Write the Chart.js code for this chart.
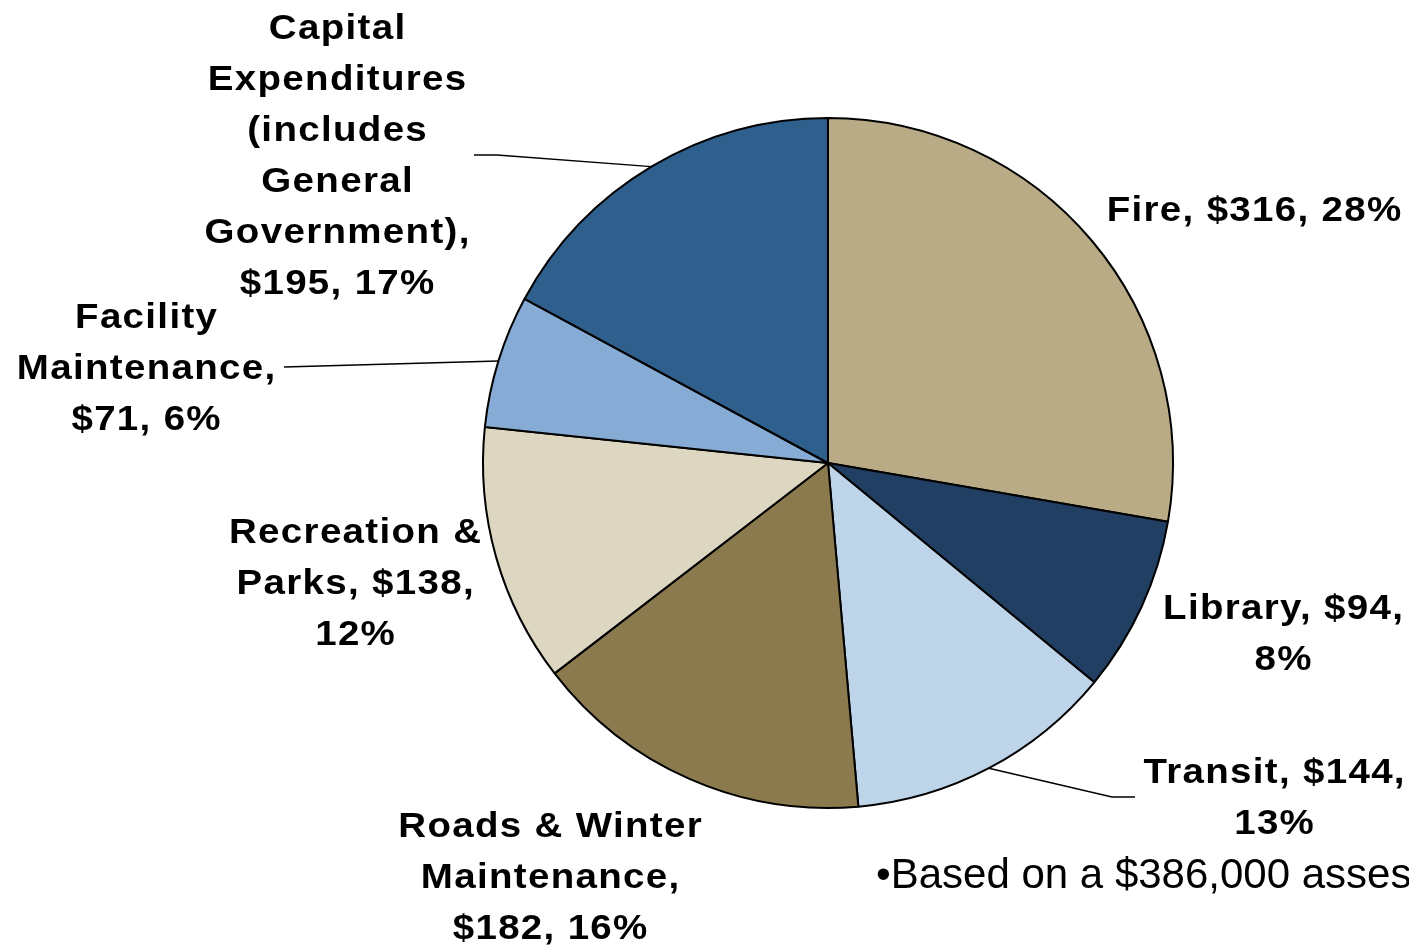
<!DOCTYPE html>
<html>
<head>
<meta charset="utf-8">
<script src="https://cdn.jsdelivr.net/npm/chart.js@4.4.1/dist/chart.umd.min.js"></script>
<style>
  html, body { margin: 0; padding: 0; background: #ffffff; overflow: hidden; }
  #wrap { position: relative; width: 1409px; height: 947px; }
</style>
</head>
<body>
<div id="wrap"><canvas id="c" width="1409" height="947"></canvas></div>
<script>
// ---- data ----
const categories = [
  "Fire",
  "Library",
  "Transit",
  "Roads & Winter Maintenance",
  "Recreation & Parks",
  "Facility Maintenance",
  "Capital Expenditures (includes General Government)"
];
const values = [316, 94, 144, 182, 138, 71, 195];
const colors = ["#B9AB85", "#213F62", "#BDD4E9", "#8B7A4E", "#DDD7C2", "#86ABD4", "#2F5F8D"];
// how many words go on each line of each data label
const lineWords = [[3], [2, 1], [2, 1], [3, 1, 2], [2, 2, 1], [1, 1, 2], [1, 1, 1, 1, 1, 2]];
const footnote = "\u2022Based on a $386,000 assessment";

// ---- label layout (centre x, first baseline y, optional leader elbow/end) ----
const labelLayout = [
  { x: 1254, y: 221 },
  { x: 1283, y: 619 },
  { x: 1274, y: 783, elbow: [1112, 797], end: [1135, 797] },
  { x: 550, y: 837 },
  { x: 355, y: 543 },
  { x: 146, y: 328, elbow: [284, 367], end: [284, 367] },
  { x: 337, y: 39, elbow: [497, 155], end: [474, 155] }
];
const LINE_H = 51;
const X_STRETCH = 1.1;
const SPACING = 1.2;

const total = values.reduce((a, b) => a + b, 0);

function labelLines(i) {
  const pct = Math.round(values[i] / total * 100);
  const words = (categories[i] + ", $" + values[i] + ", " + pct + "%").split(" ");
  const out = [];
  let k = 0;
  for (const n of lineWords[i]) {
    out.push(words.slice(k, k + n).join(" "));
    k += n;
  }
  return out;
}

const labelPlugin = {
  id: "outerLabels",
  afterDraw(chart) {
    const ctx = chart.ctx;
    const meta = chart.getDatasetMeta(0);
    ctx.save();
    // leader lines
    ctx.strokeStyle = "#000000";
    ctx.lineWidth = 1.5;
    meta.data.forEach((arc, i) => {
      const L = labelLayout[i];
      if (!L.elbow) return;
      const p = arc.getProps(["x", "y", "startAngle", "endAngle", "outerRadius"], true);
      const mid = (p.startAngle + p.endAngle) / 2;
      const ex = p.x + Math.cos(mid) * p.outerRadius;
      const ey = p.y + Math.sin(mid) * p.outerRadius;
      ctx.beginPath();
      ctx.moveTo(ex, ey);
      ctx.lineTo(L.elbow[0], L.elbow[1]);
      ctx.lineTo(L.end[0], L.end[1]);
      ctx.stroke();
    });
    // labels
    ctx.fillStyle = "#000000";
    ctx.font = "bold 35px 'Liberation Sans', Arial, sans-serif";
    ctx.textAlign = "center";
    ctx.textBaseline = "alphabetic";
    try { ctx.letterSpacing = SPACING + "px"; } catch (e) {}
    meta.data.forEach((arc, i) => {
      const L = labelLayout[i];
      labelLines(i).forEach((line, j) => {
        ctx.save();
        ctx.translate(L.x, L.y + j * LINE_H);
        ctx.scale(X_STRETCH, 1);
        ctx.fillText(line, SPACING / 2, 0);
        ctx.restore();
      });
    });
    // footnote
    try { ctx.letterSpacing = "0px"; } catch (e) {}
    ctx.font = "42px 'Liberation Sans', Arial, sans-serif";
    ctx.textAlign = "left";
    ctx.fillText(footnote, 876, 888);
    ctx.restore();
  }
};

new Chart(document.getElementById("c"), {
  type: "pie",
  data: {
    labels: categories,
    datasets: [{
      data: values,
      backgroundColor: colors,
      borderColor: "#000000",
      borderWidth: 2
    }]
  },
  options: {
    responsive: false,
    animation: false,
    events: [],
    layout: { padding: { left: 482, right: 235, top: 117, bottom: 138 } },
    plugins: {
      legend: { display: false },
      tooltip: { enabled: false },
      title: { display: false }
    }
  },
  plugins: [labelPlugin]
});
</script>
</body>
</html>
